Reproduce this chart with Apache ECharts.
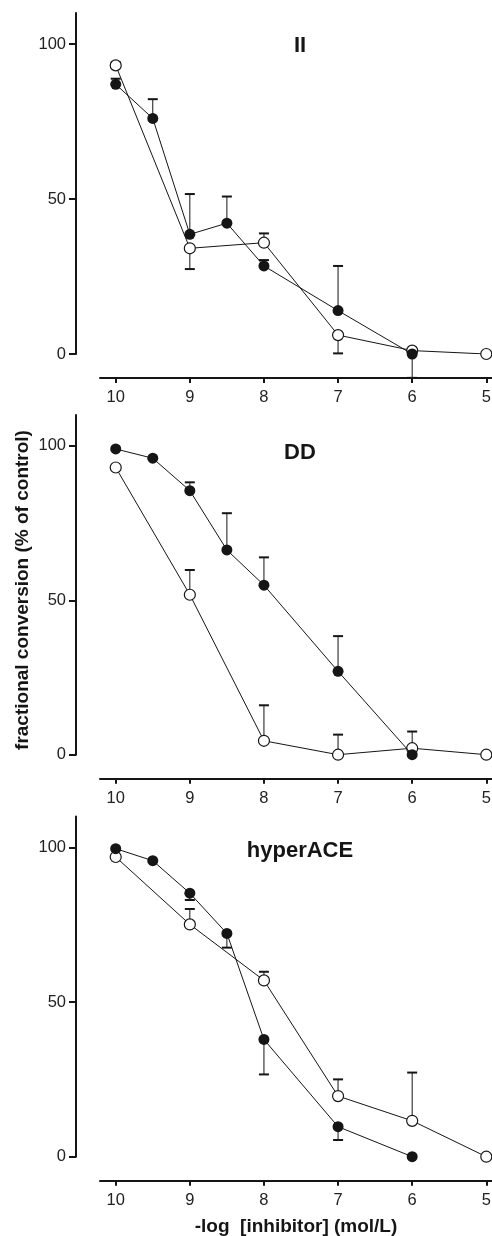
<!DOCTYPE html>
<html>
<head>
<meta charset="utf-8">
<script src="https://cdn.jsdelivr.net/npm/echarts@6/dist/echarts.min.js"></script>
<style>
    html, body { margin: 0; padding: 0; background: #fff; }
    #main { width: 492px; height: 1236px; }
</style>
</head>
<body>
<div id="main"></div>
<script>
    // doses (-log [inhibitor])
    const filledX = [10, 9.5, 9, 8.5, 8, 7, 6]
    const openX = [10, 9, 8, 7, 6, 5]
    const xTicks = [10, 9, 8, 7, 6, 5]
    const yTicks = [0, 50, 100]
    const titles = ['II', 'DD', 'hyperACE']

    // panel II
    const iiFilled = [87, 76, 38.6, 42.2, 28.4, 14.0, 0]
    const iiFilledErr = [88.8, 82.2, 51.6, 50.8, 30.3, 28.4, -7.7]
    const iiOpen = [93.1, 34.1, 35.9, 6.1, 1.1, 0]
    const iiOpenErr = [94.1, 27.4, 38.9, 0.2, null, null]

    // panel DD
    const ddFilled = [99.0, 96.0, 85.5, 66.3, 54.9, 27.0, 0]
    const ddFilledErr = [null, null, 88.2, 78.2, 63.9, 38.4, null]
    const ddOpen = [93.0, 51.8, 4.5, 0, 2.1, 0]
    const ddOpenErr = [null, 59.8, 16.0, 6.5, 7.5, null]

    // panel hyperACE
    const haFilled = [99.6, 95.7, 85.2, 72.2, 37.9, 9.7, 0]
    const haFilledErr = [null, null, 83.0, 67.6, 26.6, 5.4, null]
    const haOpen = [96.9, 75.1, 57.0, 19.6, 11.6, 0]
    const haOpenErr = [null, 80.1, 59.8, 25.0, 27.2, null]

    const panels = [
        {filled: iiFilled, filledErr: iiFilledErr, open: iiOpen, openErr: iiOpenErr},
        {filled: ddFilled, filledErr: ddFilledErr, open: ddOpen, openErr: ddOpenErr},
        {filled: haFilled, filledErr: haFilledErr, open: haOpen, openErr: haOpenErr}
    ]

    const FONT = "'Liberation Sans', Arial, sans-serif"
    const INK = '#151515'
    const gridTops = [13, 415, 816.5]
    const gridHeights = [341, 339.7, 340.2]

    function pairs(xs, ys) {
        return xs.map((x, i) => [x, ys[i]])
    }

    function errData(xs, ys, ends) {
        const out = []
        xs.forEach((x, i) => {
            if (ends[i] !== null) out.push([x, ys[i], ends[i]])
        })
        return out
    }

    function renderErr(params, api) {
        const p0 = api.coord([api.value(0), api.value(1)])
        const p1 = api.coord([api.value(0), api.value(2)])
        return {
            type: 'group',
            children: [
                {type: 'line', shape: {x1: p0[0], y1: p0[1], x2: p1[0], y2: p1[1]},
                    style: {stroke: INK, lineWidth: 1}},
                {type: 'line', shape: {x1: p1[0] - 5, y1: p1[1], x2: p1[0] + 5, y2: p1[1]},
                    style: {stroke: INK, lineWidth: 2}}
            ]
        }
    }

    const grid = [], xAxis = [], yAxis = [], series = [], graphic = []

    panels.forEach((p, k) => {
        grid.push({left: 100, width: 392, top: gridTops[k], height: gridHeights[k],
            outerBoundsMode: 'none', containLabel: false})
        xAxis.push({
            type: 'value', gridIndex: k, inverse: true,
            min: 4.923, max: 10.212, offset: 24,
            axisLine: {onZero: false, lineStyle: {color: INK, width: 2}},
            axisTick: {length: 5, lineStyle: {color: INK, width: 2}, customValues: xTicks},
            axisLabel: {color: '#222', fontSize: 16.5, fontFamily: FONT, margin: 11, customValues: xTicks},
            splitLine: {show: false},
            name: k === 2 ? '-log  [inhibitor] (mol/L)' : '',
            nameLocation: 'middle', nameGap: 37,
            nameTextStyle: {color: INK, fontSize: 19, fontWeight: 'bold', fontFamily: FONT}
        })
        yAxis.push({
            type: 'value', gridIndex: k, min: 0, max: 110, offset: 24,
            axisLine: {show: true, onZero: false, lineStyle: {color: INK, width: 2}},
            axisTick: {show: true, length: 7, lineStyle: {color: INK, width: 2}, customValues: yTicks},
            axisLabel: {color: '#222', fontSize: 16.5, fontFamily: FONT, margin: 10, customValues: yTicks},
            splitLine: {show: false}
        })
        series.push({
            type: 'custom', xAxisIndex: k, yAxisIndex: k, z: 1,
            renderItem: renderErr, encode: {x: 0, y: [1, 2]},
            data: errData(filledX, p.filled, p.filledErr)
        }, {
            type: 'custom', xAxisIndex: k, yAxisIndex: k, z: 1,
            renderItem: renderErr, encode: {x: 0, y: [1, 2]},
            data: errData(openX, p.open, p.openErr)
        }, {
            type: 'line', xAxisIndex: k, yAxisIndex: k, z: 3,
            data: pairs(openX, p.open),
            symbol: 'circle', symbolSize: 11,
            lineStyle: {color: INK, width: 1},
            itemStyle: {color: '#fff', borderColor: INK, borderWidth: 1.2}
        }, {
            type: 'line', xAxisIndex: k, yAxisIndex: k, z: 4,
            data: pairs(filledX, p.filled),
            symbol: 'circle', symbolSize: 11,
            lineStyle: {color: INK, width: 1},
            itemStyle: {color: INK, borderColor: INK, borderWidth: 0}
        })
        graphic.push({
            type: 'text', x: 300, y: [46, 452.5, 850.5][k],
            style: {text: titles[k], fill: INK, font: 'bold 22px ' + FONT,
                textAlign: 'center', textVerticalAlign: 'middle'}
        })
    })

    graphic.push({
        type: 'text', x: 23, y: 590, rotation: Math.PI / 2,
        style: {text: 'fractional conversion (% of control)', fill: INK, font: 'bold 19px ' + FONT,
            textAlign: 'center', textVerticalAlign: 'middle'}
    })

    const chart = echarts.init(document.getElementById('main'))
    chart.setOption({
        animation: false,
        backgroundColor: '#fff',
        grid: grid,
        xAxis: xAxis,
        yAxis: yAxis,
        series: series,
        graphic: graphic
    })
</script>
</body>
</html>
